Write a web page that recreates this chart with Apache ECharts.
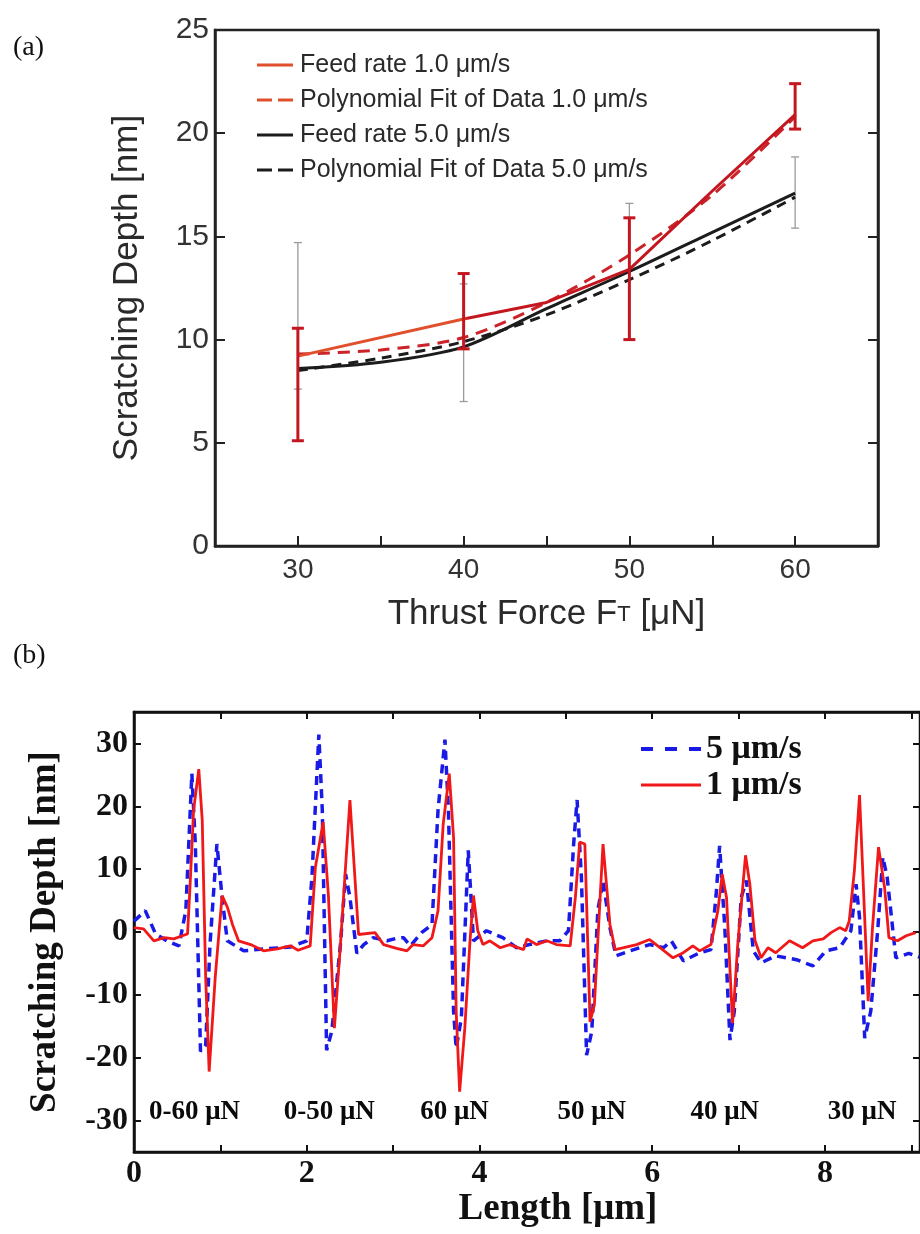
<!DOCTYPE html>
<html>
<head>
<meta charset="utf-8">
<script src="https://cdn.jsdelivr.net/npm/echarts@6.0.0/dist/echarts.min.js"></script>
<style>
html,body{margin:0;padding:0;background:#fff;}
#chart{width:920px;height:1234px;}
</style>
</head>
<body>
<div id="chart"></div>
<script>
// ---------- Panel (a) data ----------
var forceFeed1 = [30, 40, 45, 50, 55, 60];
var depthFeed1 = [9.2, 11.0, 11.8, 13.4, 17.2, 20.9];
var forceFit = [30, 35, 40, 45, 50, 55, 60];
var depthFit1 = [9.3, 9.5, 10.1, 11.8, 14.1, 17.0, 20.8];
var depthFeed5 = [8.6, 8.9, 9.65, 11.5, 13.3, 15.2, 17.1];
var depthFit5 = [8.5, 9.1, 9.9, 11.2, 12.9, 14.8, 16.9];
var errForce = [30, 40, 50, 60];
var err1Low = [5.1, 9.55, 10.0, 20.2];
var err1High = [10.55, 13.2, 15.9, 22.4];
var err5Low = [7.6, 7.0, 10.0, 15.4];
var err5High = [14.7, 12.7, 16.6, 18.85];
var xTicksA = [30, 40, 50, 60];

// ---------- Panel (b) data ----------
var lenRed = [0.00,0.11,0.23,0.35,0.46,0.56,0.62,0.65,0.69,0.75,0.79,0.83,0.87,0.94,1.02,1.08,1.14,1.21,1.35,1.50,1.66,1.81,1.90,2.04,2.10,2.19,2.25,2.32,2.39,2.50,2.60,2.79,2.89,3.04,3.16,3.23,3.35,3.45,3.52,3.58,3.65,3.70,3.73,3.77,3.83,3.89,3.93,3.98,4.04,4.12,4.24,4.35,4.51,4.55,4.66,4.78,4.89,5.05,5.11,5.16,5.22,5.28,5.33,5.43,5.51,5.57,5.67,5.82,5.97,6.09,6.24,6.36,6.47,6.55,6.68,6.76,6.81,6.86,6.93,6.99,7.08,7.13,7.19,7.26,7.34,7.43,7.59,7.74,7.86,7.98,8.07,8.17,8.24,8.28,8.34,8.40,8.44,8.50,8.55,8.62,8.69,8.74,8.84,8.94,9.05];
var depthRed = [0.7,0.5,-1.4,-0.9,-1.1,-0.6,-0.3,7.6,19.4,25.9,17.8,-7.3,-22.2,-7.3,5.8,4.0,1.2,-1.4,-2.0,-3.0,-2.7,-2.2,-2.9,-2.2,10.3,17.5,6.0,-15.3,-2.0,21.0,-0.4,-0.1,-2.0,-2.6,-3.0,-2.0,-2.2,-0.9,3.4,17.2,25.2,15.0,-12.6,-25.4,-15.3,-1.4,5.8,0.2,-2.0,-1.4,-2.5,-2.0,-2.8,-1.1,-2.0,-1.4,-2.0,-2.2,5.5,14.3,14.0,-14.3,-11.6,14.0,1.2,-2.8,-2.5,-2.0,-1.2,-2.5,-4.1,-3.3,-2.2,-3.0,-2.0,3.4,9.2,5.5,-14.5,-2.0,12.2,7.6,-1.4,-4.1,-2.5,-3.3,-1.4,-2.5,-1.4,-1.1,-0.1,0.7,0.2,1.7,9.7,21.8,8.7,-11.0,0.7,13.5,7.1,-0.9,-1.4,-0.6,-0.1];
var lenBlue = [0.00,0.13,0.25,0.38,0.52,0.60,0.67,0.71,0.77,0.83,0.88,0.96,1.02,1.08,1.27,1.50,1.81,2.00,2.06,2.14,2.18,2.23,2.29,2.39,2.45,2.50,2.58,2.66,2.77,2.93,3.04,3.12,3.20,3.33,3.45,3.52,3.60,3.64,3.70,3.73,3.79,3.87,3.93,4.08,4.27,4.43,4.58,4.78,4.93,5.03,5.09,5.13,5.18,5.24,5.30,5.37,5.43,5.51,5.58,5.74,5.97,6.13,6.22,6.36,6.55,6.68,6.74,6.78,6.84,6.90,6.95,7.03,7.09,7.17,7.26,7.43,7.67,7.86,8.01,8.17,8.30,8.36,8.40,8.46,8.53,8.61,8.67,8.72,8.82,8.97,9.09];
var depthBlue = [1.7,3.4,-0.3,-1.4,-2.2,3.4,25.2,14.0,-19.0,-18.0,-2.0,14.0,5.5,-1.4,-3.0,-2.7,-2.4,-1.4,8.7,31.4,19.4,-18.8,-15.8,-2.0,9.2,5.5,-3.4,-2.0,-0.9,-1.4,-1.0,-0.9,-2.2,-0.1,1.2,19.4,30.6,19.4,-12.6,-18.5,-13.7,13.0,-1.4,0.2,-0.9,-2.5,-2.0,-1.4,-1.4,0.2,14.0,21.0,8.7,-19.6,-15.8,3.4,8.2,0.7,-3.8,-3.0,-2.0,-2.5,-1.4,-4.6,-3.3,-2.8,6.0,13.7,0.7,-17.2,-12.6,5.5,8.2,-3.0,-4.9,-3.8,-4.4,-5.4,-3.0,-2.5,0.2,7.6,2.3,-16.9,-12.6,0.2,11.9,8.7,-4.1,-3.4,-4.0];
var annotText = ['0-60 μN', '0-50 μN', '60 μN', '50 μN', '40 μN', '30 μN'];
var annotLen = [0.70, 2.26, 3.71, 5.30, 6.84, 8.43];
var annotDepth = [-28.7, -28.7, -28.7, -28.7, -28.7, -28.7];
var xTicksB = [0, 1, 2, 3, 4, 5, 6, 7, 8, 9];
var xLabelsB = [0, 2, 4, 6, 8];
var yTicksB = [-30, -20, -10, 0, 10, 20, 30];

function zip(a, b) { return a.map(function (v, i) { return [v, b[i]]; }); }
function zip3(a, b, c) { return a.map(function (v, i) { return [v, b[i], c[i]]; }); }

function errRender(capHalf, color, width) {
  return function (params, api) {
    var x = api.value(0), lo = api.value(1), hi = api.value(2);
    var p1 = api.coord([x, lo]), p2 = api.coord([x, hi]);
    var st = { stroke: color, lineWidth: width };
    return {
      type: 'group',
      children: [
        { type: 'line', shape: { x1: p1[0], y1: p1[1], x2: p2[0], y2: p2[1] }, style: st },
        { type: 'line', shape: { x1: p1[0] - capHalf, y1: p1[1], x2: p1[0] + capHalf, y2: p1[1] }, style: st },
        { type: 'line', shape: { x1: p2[0] - capHalf, y1: p2[1], x2: p2[0] + capHalf, y2: p2[1] }, style: st }
      ]
    };
  };
}

function textRender(params, api) {
  var p = api.coord([api.value(0), api.value(1)]);
  return {
    type: 'text', x: p[0], y: p[1],
    style: { text: annotText[params.dataIndex], fill: '#0a0a0a', fontSize: 27, fontWeight: 'bold',
      fontFamily: SERIF, align: 'center', verticalAlign: 'middle' }
  };
}

var SANS = '"Liberation Sans", Arial, sans-serif';
var SERIF = '"Liberation Serif", "Times New Roman", serif';
var RED1 = '#e0502c';
var DARKRED = '#c4161f';
var FITRED = '#cc2229';
var BLK = '#1c1c1c';
var BLUE = '#1a1ae6';
var RED2 = '#f01818';

var ICON_SOLID_A = 'path://M0,0H36V3H0Z';
var ICON_DASH_A = 'path://M0,0H15V3H0ZM21,0H36V3H21Z';
var ICON_SOLID_B = 'path://M0,0H60V3H0Z';
var ICON_DASH_B = 'path://M0,0H12V4H0ZM24,0H36V4H24ZM48,0H60V4H48Z';

var chart = echarts.init(document.getElementById('chart'), null, { renderer: 'canvas' });

var option = {
  backgroundColor: '#ffffff',
  animation: false,
  graphic: [
    { type: 'text', left: 13, top: 34, style: { text: '(a)', fontSize: 28, fontFamily: SERIF, fill: '#111' } },
    { type: 'text', left: 13, top: 642, style: { text: '(b)', fontSize: 28, fontFamily: SERIF, fill: '#111' } }
  ],
  grid: [
    { left: 215, top: 30, width: 663, height: 516, show: true, borderColor: '#222', borderWidth: 2.5, backgroundColor: 'transparent', containLabel: false },
    { left: 134, top: 712, width: 787, height: 440, show: true, borderColor: '#111', borderWidth: 2.5, backgroundColor: 'transparent', containLabel: false }
  ],
  legend: [
    {
      orient: 'vertical', left: 252, top: 47, itemWidth: 36, itemHeight: 3, itemGap: 9,
      textStyle: { fontSize: 25, fontFamily: SANS, color: '#2a2a2a', lineHeight: 26, padding: [0, 0, 0, 2] },
      data: [
        { name: 'Feed rate 1.0 μm/s', icon: ICON_SOLID_A, itemStyle: { color: RED1 } },
        { name: 'Polynomial Fit of Data 1.0 μm/s', icon: ICON_DASH_A, itemStyle: { color: RED1 } },
        { name: 'Feed rate 5.0 μm/s', icon: ICON_SOLID_A, itemStyle: { color: BLK } },
        { name: 'Polynomial Fit of Data 5.0 μm/s', icon: ICON_DASH_A, itemStyle: { color: BLK } }
      ]
    },
    {
      orient: 'vertical', left: 636, top: 727, itemWidth: 60, itemHeight: 4, itemGap: 2,
      textStyle: { fontSize: 34, fontFamily: SERIF, fontWeight: 'bold', color: '#111', lineHeight: 32 },
      data: [
        { name: '5 μm/s', icon: ICON_DASH_B, itemStyle: { color: BLUE } },
        { name: '1 μm/s', icon: ICON_SOLID_B, itemStyle: { color: RED2 } }
      ]
    }
  ],
  xAxis: [
    {
      gridIndex: 0, type: 'value', min: 25, max: 65, interval: 5,
      axisLine: { show: true, onZero: false, lineStyle: { color: '#222', width: 2.5 } },
      axisTick: { show: true, inside: true, length: 10, lineStyle: { color: '#222', width: 2 } },
      axisLabel: { fontSize: 28, fontFamily: SANS, color: '#333', margin: 10, customValues: xTicksA },
      splitLine: { show: false },
      name: 'Thrust Force F{s|T} [μN]', nameLocation: 'middle', nameGap: 51,
      nameTextStyle: { fontSize: 35, fontFamily: SANS, color: '#2a2a2a',
        rich: { s: { fontSize: 22, fontFamily: SANS, color: '#2a2a2a' } } }
    },
    {
      gridIndex: 1, type: 'value', min: 0, max: 9.1,
      axisLine: { show: true, onZero: false, lineStyle: { color: '#111', width: 2.5 } },
      axisTick: { show: true, inside: true, length: 7, customValues: xTicksB, lineStyle: { color: '#111', width: 2 } },
      axisLabel: { fontSize: 32, fontFamily: SERIF, fontWeight: 'bold', color: '#111', margin: 6, customValues: xLabelsB },
      splitLine: { show: false },
      name: 'Length [μm]', nameLocation: 'middle', nameGap: 36,
      nameTextStyle: { fontSize: 37, fontFamily: SERIF, fontWeight: 'bold', color: '#111', padding: [0, 0, 0, 62] }
    },
    {
      gridIndex: 1, type: 'value', min: 0, max: 9.1, position: 'top',
      axisLine: { show: true, onZero: false, lineStyle: { color: '#111', width: 2.5 } },
      axisTick: { show: true, inside: true, length: 7, customValues: xTicksB, lineStyle: { color: '#111', width: 2 } },
      axisLabel: { show: false }, splitLine: { show: false }
    }
  ],
  yAxis: [
    {
      gridIndex: 0, type: 'value', min: 0, max: 25, interval: 5,
      axisLine: { show: true, onZero: false, lineStyle: { color: '#222', width: 2.5 } },
      axisTick: { show: true, inside: true, length: 10, lineStyle: { color: '#222', width: 2 } },
      axisLabel: { fontSize: 30, fontFamily: SANS, color: '#333', margin: 6 },
      splitLine: { show: false },
      name: 'Scratching Depth [nm]', nameLocation: 'middle', nameRotate: 90, nameGap: 70,
      nameTextStyle: { fontSize: 35, fontFamily: SANS, color: '#2a2a2a' }
    },
    {
      gridIndex: 0, type: 'value', min: 0, max: 25, interval: 5, position: 'right',
      axisLine: { show: true, onZero: false, lineStyle: { color: '#222', width: 2.5 } },
      axisTick: { show: true, inside: true, length: 10, lineStyle: { color: '#222', width: 2 } },
      axisLabel: { show: false }, splitLine: { show: false }
    },
    {
      gridIndex: 1, type: 'value', min: -35, max: 35,
      axisLine: { show: true, onZero: false, lineStyle: { color: '#111', width: 2.5 } },
      axisTick: { show: true, inside: true, length: 7, customValues: yTicksB, lineStyle: { color: '#111', width: 2 } },
      axisLabel: { fontSize: 32, fontFamily: SERIF, fontWeight: 'bold', color: '#111', margin: 6, customValues: yTicksB },
      splitLine: { show: false },
      name: 'Scratching Depth [nm]', nameLocation: 'middle', nameRotate: 90, nameGap: 70,
      nameTextStyle: { fontSize: 37, fontFamily: SERIF, fontWeight: 'bold', color: '#111' }
    },
    {
      gridIndex: 1, type: 'value', min: -35, max: 35, position: 'right',
      axisLine: { show: true, onZero: false, lineStyle: { color: '#111', width: 2.5 } },
      axisTick: { show: true, inside: true, length: 7, customValues: yTicksB, lineStyle: { color: '#111', width: 2 } },
      axisLabel: { show: false }, splitLine: { show: false }
    }
  ],
  series: [
    {
      name: 'err5', type: 'custom', xAxisIndex: 0, yAxisIndex: 0, silent: true,
      renderItem: errRender(4, '#9a9a9a', 1.3),
      encode: { x: 0, y: [1, 2] },
      data: zip3(errForce, err5Low, err5High), z: 1
    },
    {
      name: 'Polynomial Fit of Data 5.0 μm/s', type: 'line', xAxisIndex: 0, yAxisIndex: 0,
      data: zip(forceFit, depthFit5), symbol: 'none', smooth: 0.3,
      lineStyle: { color: BLK, width: 3, type: [10, 7] }, itemStyle: { color: BLK }, z: 2
    },
    {
      name: 'Feed rate 5.0 μm/s', type: 'line', xAxisIndex: 0, yAxisIndex: 0,
      data: zip(forceFit, depthFeed5), symbol: 'none', smooth: 0.3,
      lineStyle: { color: BLK, width: 3 }, itemStyle: { color: BLK }, z: 3
    },
    {
      name: 'Polynomial Fit of Data 1.0 μm/s', type: 'line', xAxisIndex: 0, yAxisIndex: 0,
      data: zip(forceFit, depthFit1), symbol: 'none', smooth: 0.3,
      lineStyle: { color: FITRED, width: 3, type: [12, 8] }, itemStyle: { color: FITRED }, z: 4
    },
    {
      name: 'Feed rate 1.0 μm/s', type: 'line', xAxisIndex: 0, yAxisIndex: 0,
      data: zip(forceFeed1, depthFeed1), symbol: 'none',
      lineStyle: {
        width: 3,
        color: new echarts.graphic.LinearGradient(0, 0, 1, 0, [
          { offset: 0, color: RED1 }, { offset: 0.33, color: RED1 },
          { offset: 0.345, color: DARKRED }, { offset: 1, color: DARKRED }
        ])
      },
      itemStyle: { color: RED1 }, z: 5
    },
    {
      name: 'err1', type: 'custom', xAxisIndex: 0, yAxisIndex: 0, silent: true,
      renderItem: errRender(6, DARKRED, 3),
      encode: { x: 0, y: [1, 2] },
      data: zip3(errForce, err1Low, err1High), z: 6
    },
    {
      name: '5 μm/s', type: 'line', xAxisIndex: 1, yAxisIndex: 2,
      data: zip(lenBlue, depthBlue), symbol: 'none',
      lineStyle: { color: BLUE, width: 3.5, type: [9, 6] }, itemStyle: { color: BLUE }, z: 2
    },
    {
      name: '1 μm/s', type: 'line', xAxisIndex: 1, yAxisIndex: 2,
      data: zip(lenRed, depthRed), symbol: 'none',
      lineStyle: { color: RED2, width: 2.8 }, itemStyle: { color: RED2 }, z: 3
    },
    {
      name: 'annotations', type: 'custom', xAxisIndex: 1, yAxisIndex: 2, silent: true,
      renderItem: textRender,
      encode: { x: 0, y: 1 },
      data: zip(annotLen, annotDepth),
      z: 5
    }
  ]
};
chart.setOption(option);
</script>
</body>
</html>
